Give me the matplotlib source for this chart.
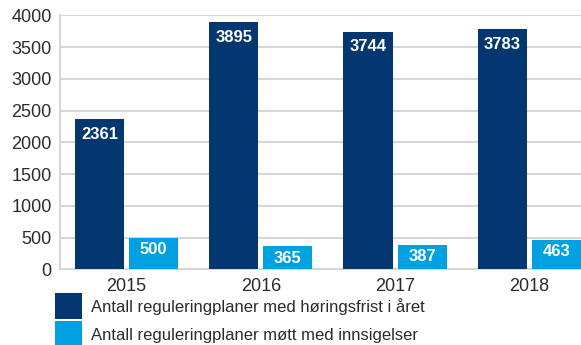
import numpy as np
import matplotlib.pyplot as plt

plt.rcParams['font.family'] = ['Liberation Sans', 'DejaVu Sans']

years = ['2015', '2016', '2017', '2018']
med_horingsfrist = [2361, 3895, 3744, 3783]
med_innsigelser = [500, 365, 387, 463]
series_names = ['Antall reguleringplaner med høringsfrist i året',
                'Antall reguleringplaner møtt med innsigelser']

dark = '#04376f'
light = '#00a0e1'
grid_col = '#d6d6d6'
text_col = '#2b2b2b'

fig = plt.figure(figsize=(5.81, 3.45), dpi=100)
ax = fig.add_axes([60 / 581, 1 - 269.3 / 345, 1 - 60 / 581, (269.3 - 15.3) / 345])

x = np.arange(len(years))
w = 0.366
off = 0.2015
b1 = ax.bar(x - off, med_horingsfrist, w, color=dark, label=series_names[0], zorder=3)
b2 = ax.bar(x + off, med_innsigelser, w, color=light, label=series_names[1], zorder=3)

# value labels inside the top of each bar
for bars, vals, dy in ((b1, med_horingsfrist, -11), (b2, med_innsigelser, -8.7)):
    for rect, v in zip(bars, vals):
        ax.annotate(str(v), (rect.get_x() + rect.get_width() / 2, v),
                    xytext=(0, dy), textcoords='offset points',
                    ha='center', va='center', color='white',
                    fontsize=12, fontweight='bold', zorder=4)

ax.set_xlim(-0.496, 3.385)
ax.set_ylim(0, 4000)
ax.set_yticks(range(0, 4001, 500))
ax.set_xticks(x)
ax.set_xticklabels(years)
ax.yaxis.grid(True, color=grid_col, linewidth=1.5, zorder=0)
ax.set_axisbelow(True)
for s in ('top', 'right'):
    ax.spines[s].set_visible(False)
for s in ('left', 'bottom'):
    ax.spines[s].set_color(grid_col)
    ax.spines[s].set_linewidth(1.5)
ax.tick_params(length=0, labelsize=13, colors=text_col)
ax.tick_params(axis='y', pad=6)
ax.tick_params(axis='x', pad=6)

fig.legend(loc='upper left', bbox_to_anchor=(52 / 581, 1 - 290 / 345),
           frameon=False, fontsize=12, labelcolor=text_col,
           handlelength=1.62, handleheight=2.02, labelspacing=0.12,
           handletextpad=0.5, borderaxespad=0, borderpad=0.2)

fig.savefig('out.png', dpi=100)
